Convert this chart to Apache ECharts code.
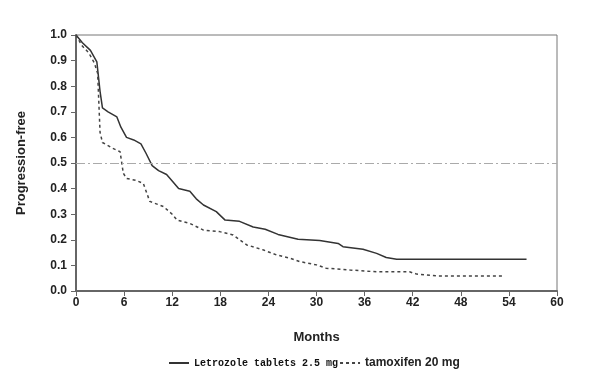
<!DOCTYPE html>
<html><head><meta charset="utf-8">
<script src="https://cdn.jsdelivr.net/npm/echarts@6/dist/echarts.min.js"></script>
<style>html,body{margin:0;padding:0;background:#fff}#c{width:600px;height:380px}</style>
</head><body><div id="c"></div>
<script>
const xTicks = [0, 6, 12, 18, 24, 30, 36, 42, 48, 54, 60];
const letMonths = [0, 0.8, 1.8, 2.6, 3.0, 3.3, 4.0, 5.1, 5.6, 6.3, 7.2, 8.1, 8.7, 9.5, 10.3, 11.3, 12.0, 12.8, 14.2, 15.0, 15.9, 17.5, 18.6, 20.4, 22.1, 23.6, 25.2, 27.7, 30.4, 32.7, 33.3, 35.8, 37.5, 38.7, 40.0, 56.2];
const letValues = [1.0, 0.97, 0.94, 0.895, 0.78, 0.715, 0.70, 0.68, 0.64, 0.60, 0.59, 0.575, 0.54, 0.49, 0.47, 0.455, 0.43, 0.40, 0.39, 0.36, 0.336, 0.31, 0.277, 0.272, 0.25, 0.241, 0.221, 0.202, 0.197, 0.186, 0.173, 0.163, 0.147, 0.131, 0.124, 0.124];
const tamMonths = [0, 0.7, 1.6, 2.3, 2.7, 3.0, 3.3, 4.6, 5.5, 5.9, 6.3, 7.5, 8.4, 9.2, 10.9, 12.0, 12.6, 14.2, 15.9, 17.9, 19.6, 21.3, 23.4, 25.0, 26.7, 27.9, 30.0, 31.2, 34.2, 37.5, 41.6, 42.5, 45.0, 53.3];
const tamValues = [1.0, 0.96, 0.93, 0.89, 0.85, 0.62, 0.58, 0.557, 0.544, 0.46, 0.44, 0.432, 0.42, 0.35, 0.33, 0.30, 0.277, 0.264, 0.238, 0.232, 0.219, 0.18, 0.16, 0.141, 0.128, 0.115, 0.102, 0.089, 0.082, 0.075, 0.075, 0.066, 0.059, 0.059];
const refLevel = 0.5;
const seriesNames = ['Letrozole tablets 2.5 mg', 'tamoxifen 20 mg'];

const pair = (xs, ys) => xs.map((x, i) => [x, ys[i]]);
const tickFont = '"Liberation Sans Narrow", "Liberation Sans", Arial, sans-serif';
const chart = echarts.init(document.getElementById('c'), null, {renderer: 'canvas'});
chart.setOption({
  animation: false,
  backgroundColor: '#fff',
  grid: {left: 76, right: 43, top: 35, bottom: 89, show: true, borderColor: '#777', borderWidth: 1},
  legend: {
    bottom: 6, left: 163, itemGap: 1, itemWidth: 20, itemHeight: 10,
    itemStyle: {opacity: 0},
    data: [
      {name: seriesNames[0], textStyle: {fontFamily: '"Liberation Mono", "DejaVu Sans Mono", monospace', fontWeight: 'bold', fontSize: 10, color: '#111'}},
      {name: seriesNames[1], textStyle: {fontFamily: '"Liberation Sans", Arial, sans-serif', fontWeight: 'bold', fontSize: 12, color: '#222'}}
    ]
  },
  xAxis: {
    type: 'value', min: 0, max: 60, interval: 6,
    name: 'Months', nameLocation: 'middle', nameGap: 40,
    nameTextStyle: {fontFamily: tickFont, fontWeight: 'bold', fontSize: 13, color: '#222'},
    axisLine: {lineStyle: {color: '#666', width: 2}},
    axisTick: {length: 5, lineStyle: {color: '#666'}},
    axisLabel: {fontFamily: tickFont, fontWeight: 'bold', fontSize: 12, color: '#222', margin: 6},
    splitLine: {show: false}
  },
  yAxis: {
    type: 'value', min: 0, max: 1, interval: 0.1,
    name: 'Progression-free', nameLocation: 'middle', nameGap: 48,
    nameTextStyle: {fontFamily: tickFont, fontWeight: 'bold', fontSize: 13, color: '#222'},
    axisLine: {show: true, lineStyle: {color: '#666', width: 2}},
    axisTick: {show: true, length: 5, lineStyle: {color: '#666'}},
    axisLabel: {fontFamily: tickFont, fontWeight: 'bold', fontSize: 12, color: '#222', margin: 9, formatter: v => v.toFixed(1)},
    splitLine: {show: false}
  },
  series: [
    {
      name: seriesNames[0], type: 'line', data: pair(letMonths, letValues), symbol: 'none',
      lineStyle: {color: '#333', width: 1.5}, itemStyle: {color: '#333'},
      markLine: {
        silent: true, symbol: 'none', label: {show: false},
        lineStyle: {color: '#aaa', width: 1, type: [9, 3, 2, 3]},
        data: [{yAxis: refLevel}]
      }
    },
    {
      name: seriesNames[1], type: 'line', data: pair(tamMonths, tamValues), symbol: 'none',
      lineStyle: {color: '#444', width: 1.5, type: [3, 3]}, itemStyle: {color: '#444'}
    }
  ]
});
</script></body></html>
